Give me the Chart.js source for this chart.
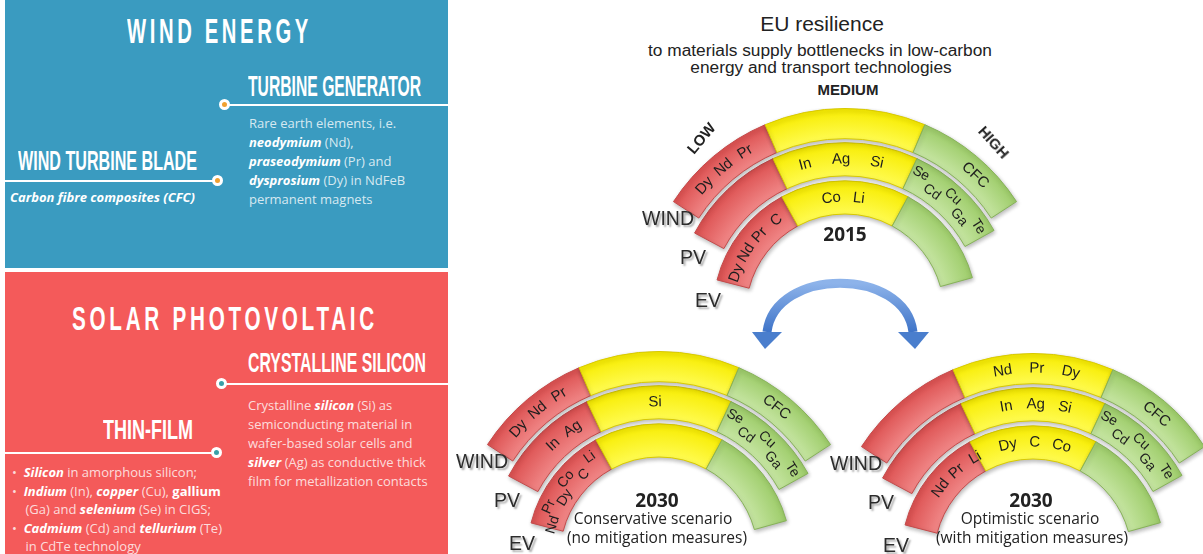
<!DOCTYPE html>
<html>
<head>
<meta charset="utf-8">
<script src="https://cdn.jsdelivr.net/npm/chart.js@4.4.1/dist/chart.umd.min.js"></script>
<style>
  html, body { margin: 0; padding: 0; background: #fff; }
  body { width: 1203px; height: 554px; position: relative; overflow: hidden; font-family: "Liberation Sans", Arial, sans-serif; }
  .panel { position: absolute; left: 5px; width: 443px; }
  #blue { top: 0; height: 268px; background: #3a9bc0; }
  #red { top: 272px; height: 282px; background: #f45a5a; }
  .head { position: absolute; white-space: nowrap; color: #fff; line-height: 1; transform-origin: 0 0; font-family: "Liberation Sans", Arial, sans-serif; font-weight: bold; }
  .txt { position: absolute; white-space: nowrap; font-family: "Open Sans", sans-serif; font-size: 13px; line-height: 19px; color: rgba(255,255,255,0.8); }
  .txt b { color: #fff; font-style: italic; }
  .txt strong { color: #fff; }
  .rule { position: absolute; height: 2px; background: #fff; }
  .dot { position: absolute; width: 11px; height: 11px; box-sizing: border-box; border-radius: 50%; border: 3px solid #fff; }
  canvas { position: absolute; }
  .lbl { position: absolute; white-space: nowrap; transform: translate(-50%, -50%); color: #222; }
  .ring { position: absolute; white-space: nowrap; transform: translate(-100%, -50%); font-size: 19.5px; color: #2c2c2c; text-shadow: 2px 2px 2px rgba(0,0,0,0.35); }
</style>
</head>
<body>

<div class="panel" id="blue"></div>
<div class="panel" id="red"></div>

<div class="head" data-w="185" style="left:127px;top:13px;font-size:35px;letter-spacing:0.18em;">WIND ENERGY</div>
<div class="head" data-w="173" style="left:248px;top:71px;font-size:30px;">TURBINE GENERATOR</div>
<div class="rule" style="left:225px;top:104px;width:223px;"></div>
<div class="dot" style="left:219px;top:99px;background:#f0a030;"></div>
<div class="txt" style="left:249px;top:114px;">Rare earth elements, i.e.<br><b>neodymium</b> (Nd),<br><b>praseodymium</b> (Pr) and<br><b>dysprosium</b> (Dy) in NdFeB<br>permanent magnets</div>
<div class="head" data-w="179" style="left:18px;top:147px;font-size:28px;">WIND TURBINE BLADE</div>
<div class="rule" style="left:5px;top:180px;width:213px;"></div>
<div class="dot" style="left:212px;top:175px;background:#f0a030;"></div>
<div class="txt" style="left:10px;top:188px;color:#fff;font-weight:bold;font-style:italic;">Carbon fibre composites (CFC)</div>

<div class="head" data-w="306" style="left:72px;top:301px;font-size:34px;letter-spacing:0.18em;">SOLAR PHOTOVOLTAIC</div>
<div class="head" data-w="178" style="left:248px;top:349px;font-size:28px;">CRYSTALLINE SILICON</div>
<div class="rule" style="left:222px;top:383px;width:226px;"></div>
<div class="dot" style="left:216px;top:378px;background:#3aa0a8;"></div>
<div class="txt" style="left:248px;top:396px;">Crystalline <b>silicon</b> (Si) as<br>semiconducting material in<br>wafer-based solar cells and<br><b>silver</b> (Ag) as conductive thick<br>film for metallization contacts</div>
<div class="head" data-w="90" style="left:103px;top:416px;font-size:28px;">THIN-FILM</div>
<div class="rule" style="left:5px;top:452px;width:212px;"></div>
<div class="dot" style="left:211px;top:447px;background:#3aa0a8;"></div>
<div class="txt" style="left:12px;top:463px;line-height:18.5px;">•&nbsp; <b>Silicon</b> in amorphous silicon;<br>•&nbsp; <b>Indium</b> (In), <b>copper</b> (Cu), <strong>gallium</strong><br>&nbsp;&nbsp;&nbsp; (Ga) and <b>selenium</b> (Se) in CIGS;<br>•&nbsp; <b>Cadmium</b> (Cd) and <b>tellurium</b> (Te)<br>&nbsp;&nbsp;&nbsp; in CdTe technology</div>

<div class="lbl" style="left:822px;top:24px;font-size:21px;">EU resilience</div>
<div class="lbl" style="left:820px;top:50px;font-size:17.3px;">to materials supply bottlenecks in low-carbon</div>
<div class="lbl" style="left:821px;top:67px;font-size:17.3px;">energy and transport technologies</div>

<svg style="position:absolute;left:740px;top:270px;overflow:visible" width="200" height="90">
  <defs>
    <linearGradient id="arrowFill" x1="0" y1="0" x2="0" y2="1">
      <stop offset="0" stop-color="#8db3ea"/>
      <stop offset="1" stop-color="#3f74c8"/>
    </linearGradient>
  </defs>
  <path d="M 27 62 C 35 -3, 165 -3, 173 62" fill="none" stroke="url(#arrowFill)" stroke-width="9"/>
  <polygon points="12,62 42,62 25,79" fill="#4a7ecd"/>
  <polygon points="158,62 189,62 175,79" fill="#4a7ecd"/>
</svg>

<canvas id="g2015" width="410" height="410"></canvas>
<canvas id="g2030c" width="410" height="410"></canvas>
<canvas id="g2030o" width="410" height="410"></canvas>

<script>
// resilience levels, left to right along each arc
const LEVELS = ['LOW', 'MEDIUM', 'HIGH'];
const RINGS = ['WIND', 'PV', 'EV'];

// angular width (degrees) of the LOW / MEDIUM / HIGH segment in each ring
const WIND_SEG = [34, 46, 34];
const PV_SEG = [37, 50, 36];
const EV_SEG = [47, 57, 46];

// materials written in each segment (LOW, MEDIUM, HIGH)
const WIND_2015 = [['Dy', 'Nd', 'Pr'], [], ['CFC']];
const PV_2015 = [[], ['In', 'Ag', 'Si'], ['Se', 'Cd', 'Cu', 'Ga', 'Te']];
const EV_2015 = [['Dy', 'Nd', 'Pr', 'C'], ['Co', 'Li'], []];

const WIND_2030C = [['Dy', 'Nd', 'Pr'], [], ['CFC']];
const PV_2030C = [['In', 'Ag'], ['Si'], ['Se', 'Cd', 'Cu', 'Ga', 'Te']];
const EV_2030C = [['Nd', 'Pr', 'Dy', 'Co', 'C', 'Li'], [], []];

const WIND_2030O = [[], ['Nd', 'Pr', 'Dy'], ['CFC']];
const PV_2030O = [[], ['In', 'Ag', 'Si'], ['Se', 'Cd', 'Cu', 'Ga', 'Te']];
const EV_2030O = [['Nd', 'Pr', 'Li'], ['Dy', 'C', 'Co'], []];

// ---- layout / style (not data) ----
const CANVAS = 410;
const INNER_R = 99;
const RING_WEIGHT = [30, 33, 33];
const GAP_WEIGHT = [4, 5];
const RING_R = [[204.5, 174.5], [170.5, 137.5], [132.5, 99.5]];
const SEG_FILL = [['#f08686', '#dc5050'], ['#fffb50', '#f7ec00'], ['#c6e5a2', '#9dcc69']];
const SEG_EDGE = ['#c44a4a', '#d8c900', '#86b258'];

// where words sit inside a segment: [from, to] as fraction of the segment, and zig-zag offset (px)
const PLACE_2015 = [[[0.27, 0.74], null, [0.6, 0.6]], [null, [0.2, 0.74], [0.1, 0.89]], [[0.12, 0.83], [0.38, 0.62], null]];
const ZIG_2015 = [[0, 0, 0], [0, 0, 5], [0, 0, 0]];
const PLACE_2030C = [[[0.27, 0.74], null, [0.45, 0.45]], [[0.5, 0.75], [0.47, 0.47], [0.1, 0.89]], [[0.04, 0.86], null, null]];
const ZIG_2030C = [[0, 0, 0], [0, 0, 5], [-5, 0, 0]];
const PLACE_2030O = [[null, [0.3, 0.75], [0.52, 0.52]], [null, [0.3, 0.74], [0.1, 0.89]], [[0.48, 0.97], [0.28, 0.75], null]];
const ZIG_2030O = [[0, 0, 0], [0, 0, 5], [0, 0, 0]];

function shade(ctx, ring) {
  const chart = ctx.chart;
  const area = chart.chartArea;
  const col = SEG_FILL[ctx.dataIndex];
  if (!area) return col[1];
  const cx = (area.left + area.right) / 2;
  const cy = (area.top + area.bottom) / 2;
  const g = chart.ctx.createRadialGradient(cx, cy, RING_R[ring][1], cx, cy, RING_R[ring][0]);
  g.addColorStop(0, col[0]);
  g.addColorStop(1, col[1]);
  return g;
}

// soft drop shadow under the arcs
const arcShadow = {
  id: 'arcShadow',
  beforeDatasetsDraw(chart) {
    const ctx = chart.ctx;
    ctx.save();
    ctx.shadowColor = 'rgba(0,0,0,0.28)';
    ctx.shadowBlur = 4;
    ctx.shadowOffsetX = 1;
    ctx.shadowOffsetY = 2;
  },
  afterDatasetsDraw(chart) {
    chart.ctx.restore();
  }
};

// writes the element symbols along the arcs
const arcWords = {
  id: 'arcWords',
  afterDatasetsDraw(chart) {
    const ctx = chart.ctx;
    chart.data.datasets.forEach((ds, i) => {
      if (!ds.words) return;
      chart.getDatasetMeta(i).data.forEach((arc, j) => {
        const words = ds.words[j];
        if (!words || !words.length) return;
        const p = arc.getProps(['x', 'y', 'startAngle', 'endAngle', 'innerRadius', 'outerRadius'], true);
        const span = ds.places[j] || [0.5, 0.5];
        const zig = ds.zig[j];
        const rMid = (p.innerRadius + p.outerRadius) / 2;
        words.forEach((w, k) => {
          const f = words.length === 1 ? (span[0] + span[1]) / 2 : span[0] + (span[1] - span[0]) * k / (words.length - 1);
          const a = p.startAngle + (p.endAngle - p.startAngle) * f;
          const r = rMid + (zig ? (k % 2 === 0 ? zig : -zig) : 0);
          ctx.save();
          ctx.translate(p.x + r * Math.cos(a), p.y + r * Math.sin(a));
          ctx.rotate(a + Math.PI / 2);
          ctx.font = (zig ? '14px' : '15px') + ' "Liberation Sans", Arial, sans-serif';
          ctx.fillStyle = '#1e1e1e';
          ctx.textAlign = 'center';
          ctx.textBaseline = 'middle';
          ctx.fillText(w, 0, 0);
          ctx.restore();
        });
      });
    });
  }
};

function gauge(id, cx, cy, words, places, zigs) {
  const canvas = document.getElementById(id);
  canvas.style.left = (cx - CANVAS / 2) + 'px';
  canvas.style.top = (cy - CANVAS / 2) + 'px';

  const datasets = [];
  [WIND_SEG, PV_SEG, EV_SEG].forEach((seg, i) => {
    if (i) {
      datasets.push({ data: [1], weight: GAP_WEIGHT[i - 1], circumference: 1, backgroundColor: 'transparent', borderWidth: 0 });
    }
    datasets.push({
      label: RINGS[i],
      data: seg,
      rotation: -(seg[0] + seg[1] / 2),
      circumference: seg[0] + seg[1] + seg[2],
      weight: RING_WEIGHT[i],
      backgroundColor: ctx => shade(ctx, i),
      borderColor: SEG_EDGE,
      borderWidth: 1,
      words: words[i],
      places: places[i],
      zig: zigs[i]
    });
  });
  // full-circle, zero-width ring so the arcs keep a fixed centre and radius
  datasets.push({ data: [1], weight: 0, circumference: 360, backgroundColor: 'transparent', borderWidth: 0 });

  new Chart(canvas, {
    type: 'doughnut',
    data: { labels: LEVELS, datasets: datasets },
    options: {
      responsive: false,
      animation: false,
      events: [],
      cutout: INNER_R,
      layout: { padding: 0 },
      plugins: { legend: { display: false }, tooltip: { enabled: false } }
    },
    plugins: [arcShadow, arcWords]
  });

  // ring names at the left end of each arc
  const offs = [[-151, -95], [-139, -56], [-124, -13]];
  RINGS.forEach((name, i) => {
    const d = document.createElement('div');
    d.className = 'ring';
    d.textContent = name;
    d.style.left = (cx + offs[i][0]) + 'px';
    d.style.top = (cy + offs[i][1]) + 'px';
    document.body.appendChild(d);
  });
}

function label(text, x, y, css) {
  const d = document.createElement('div');
  d.className = 'lbl';
  d.textContent = text;
  d.style.left = x + 'px';
  d.style.top = y + 'px';
  d.style.cssText += css;
  document.body.appendChild(d);
  return d;
}

gauge('g2015', 845, 313, [WIND_2015, PV_2015, EV_2015], PLACE_2015, ZIG_2015);
gauge('g2030c', 659, 556, [WIND_2030C, PV_2030C, EV_2030C], PLACE_2030C, ZIG_2030C);
gauge('g2030o', 1033, 558, [WIND_2030O, PV_2030O, EV_2030O], PLACE_2030O, ZIG_2030O);

const bold = 'font-family:"Open Sans",sans-serif;font-weight:bold;font-size:19px;';
const plain = 'font-family:"Open Sans",sans-serif;font-size:15.5px;';
label(LEVELS[0], 701, 138, 'font-weight:bold;font-size:15px;transform:translate(-50%,-50%) rotate(-50deg);');
label(LEVELS[1], 848, 89, 'font-weight:bold;font-size:15px;');
label(LEVELS[2], 994, 142, 'font-weight:bold;font-size:15px;transform:translate(-50%,-50%) rotate(48deg);');
label('2015', 845, 234, bold);
label('2030', 657, 500, bold);
label('Conservative scenario', 653, 518, plain);
label('(no mitigation measures)', 657, 537, plain);
label('2030', 1031, 500, bold);
label('Optimistic scenario', 1030, 518, plain);
label('(with mitigation measures)', 1032, 537, plain);

// squeeze the panel headings to the condensed width of the original
document.querySelectorAll('[data-w]').forEach(el => {
  const w = el.getBoundingClientRect().width;
  el.style.transform = 'scaleX(' + (el.dataset.w / w) + ')';
});
</script>
</body>
</html>
